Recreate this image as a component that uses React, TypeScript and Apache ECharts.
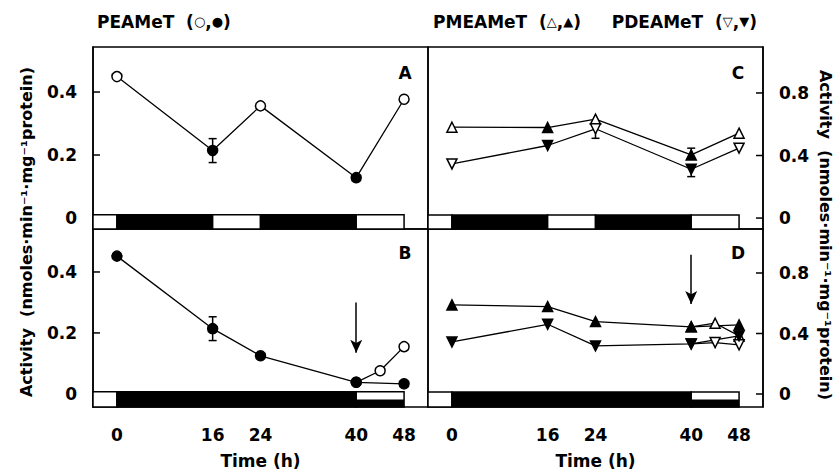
import React, { useEffect, useRef } from "react";
import * as echarts from "echarts";

// ---------- data ----------
const hourTicks = [0, 16, 24, 40, 48];
const hours = [0, 16, 24, 40, 48];

// Panel A : PEAMeT, light/dark cycle
const peametA = [0.449, 0.214, 0.356, 0.128, 0.377];
const filledA = [false, true, false, true, false];
const errA = [[16, 0.176, 0.252]];

// Panel B : PEAMeT, continuous darkness, light from 40 h
const peametBDark = [0.452, 0.214, 0.125, 0.038, 0.033];
const lightHours = [40, 44, 48];
const peametBLight = [0.038, 0.076, 0.155];
const lightFilled = [true, false, false];
const errB = [[16, 0.175, 0.253]];
const arrowB = [40, 0.3, 0.135];

// Panel C : PMEAMeT / PDEAMeT, light/dark cycle
const pmeametC = [0.581, 0.579, 0.633, 0.404, 0.543];
const pdeametC = [0.346, 0.464, 0.571, 0.312, 0.447];
const filledC = [false, true, false, true, false];
const errC = [
  [24, 0.51, 0.6],
  [40, 0.265, 0.33],
  [40, 0.38, 0.447],
];

// Panel D : PMEAMeT / PDEAMeT, continuous darkness, light from 40 h
const pmeametDDark = [0.589, 0.578, 0.479, 0.444, 0.457];
const pmeametDLight = [0.444, 0.468, 0.384];
const pdeametDDark = [0.344, 0.461, 0.318, 0.331, 0.384];
const pdeametDLight = [0.331, 0.34, 0.325];
const arrowD = [40, 0.92, 0.595];

// light (0) / dark (1) / half (2) bars : [start h, end h, kind]
const cycleBars = [
  [-4, 0, 0],
  [0, 16, 1],
  [16, 24, 0],
  [24, 40, 1],
  [40, 48, 0],
];
const darkBars = [
  [-4, 0, 0],
  [0, 40, 1],
  [40, 48, 2],
];

const leftTicks = [0, 0.2, 0.4];
const rightTicks = [0, 0.4, 0.8];

const X_MIN = -4;
const X_MAX = 52;

const FONT = "DejaVu Sans";
const yTitle = "Activity  (nmoles·min⁻¹·mg⁻¹protein)";

function pts(xs: number[], ys: number[], filled: boolean[]) {
  return xs.map((x, i) => ({
    value: [x, ys[i]],
    itemStyle: {
      color: filled[i] ? "#000" : "#fff",
      borderColor: "#000",
      borderWidth: 1.5,
    },
  }));
}

const allFilled = (n: number) => new Array(n).fill(true);

function barSeries(data: number[][], gridIdx: number, top: number, bottom: number) {
  return {
    type: "custom",
    xAxisIndex: gridIdx,
    yAxisIndex: gridIdx,
    data,
    silent: true,
    z: 1,
    clip: false,
    renderItem: (params: any, api: any) => {
      const s = api.value(0);
      const e = api.value(1);
      const kind = api.value(2);
      const p1 = api.coord([s, top]);
      const p2 = api.coord([e, bottom]);
      const w = p2[0] - p1[0];
      const h = p2[1] - p1[1];
      if (kind === 2) {
        return {
          type: "group",
          children: [
            { type: "rect", shape: { x: p1[0], y: p1[1], width: w, height: h / 2 }, style: { fill: "#fff" } },
            { type: "rect", shape: { x: p1[0], y: p1[1] + h / 2, width: w, height: h / 2 }, style: { fill: "#000" } },
            { type: "rect", shape: { x: p1[0], y: p1[1], width: w, height: h }, style: { fill: "none", stroke: "#000", lineWidth: 1.5 } },
          ],
        };
      }
      return {
        type: "rect",
        shape: { x: p1[0], y: p1[1], width: w, height: h },
        style: { fill: kind === 1 ? "#000" : "#fff", stroke: "#000", lineWidth: 1.5 },
      };
    },
  };
}

// inward y ticks, placed through the axis scale
function tickSeries(values: number[], gridIdx: number, right: boolean) {
  return {
    type: "custom",
    xAxisIndex: gridIdx,
    yAxisIndex: gridIdx,
    data: values.map((v) => [right ? X_MAX : X_MIN, v]),
    silent: true,
    clip: false,
    z: 4,
    renderItem: (params: any, api: any) => {
      const p = api.coord([api.value(0), api.value(1)]);
      const d = right ? -7 : 7;
      return {
        type: "line",
        shape: { x1: p[0], y1: p[1], x2: p[0] + d, y2: p[1] },
        style: { stroke: "#000", lineWidth: 1.5 },
      };
    },
  };
}

function errSeries(data: number[][], gridIdx: number) {
  return {
    type: "custom",
    xAxisIndex: gridIdx,
    yAxisIndex: gridIdx,
    data,
    silent: true,
    z: 2,
    renderItem: (params: any, api: any) => {
      const x = api.value(0);
      const lo = api.coord([x, api.value(1)]);
      const hi = api.coord([x, api.value(2)]);
      const st = { stroke: "#000", lineWidth: 1.5 };
      return {
        type: "group",
        children: [
          { type: "line", shape: { x1: lo[0], y1: lo[1], x2: hi[0], y2: hi[1] }, style: st },
          { type: "line", shape: { x1: lo[0] - 4, y1: lo[1], x2: lo[0] + 4, y2: lo[1] }, style: st },
          { type: "line", shape: { x1: hi[0] - 4, y1: hi[1], x2: hi[0] + 4, y2: hi[1] }, style: st },
        ],
      };
    },
  };
}

function lineSeries(data: any[], gridIdx: number, symbol: string, rotate: number, size: number, extra: any = {}) {
  return {
    type: "line",
    xAxisIndex: gridIdx,
    yAxisIndex: gridIdx,
    data,
    symbol,
    symbolRotate: rotate,
    symbolSize: size,
    showAllSymbol: true,
    z: 3,
    lineStyle: { color: "#000", width: 1.3 },
    ...extra,
  };
}

function arrow(a: number[]) {
  return {
    silent: true,
    symbol: ["none", "arrow"],
    symbolSize: [9, 13],
    lineStyle: { color: "#000", width: 1.5, type: "solid" },
    itemStyle: { color: "#000" },
    label: { show: false },
    data: [[{ coord: [a[0], a[1]] }, { coord: [a[0], a[2]] }]],
  };
}

const txt = { fontFamily: FONT, fontWeight: "bold", fontSize: 17, color: "#000" };

const yRanges = [
  [-0.035, 0.543],
  [-0.043, 0.541],
  [-0.07, 1.094],
  [-0.086, 1.091],
];

export default function App() {
  const ref = useRef<HTMLDivElement>(null);
  useEffect(() => {
    if (!ref.current) return;
    const chart = echarts.init(ref.current, undefined, { renderer: "svg" });
    const grids = [
      { left: 93, top: 47, width: 335, height: 182 },
      { left: 93, top: 229, width: 335, height: 178 },
      { left: 428, top: 47, width: 335, height: 182 },
      { left: 428, top: 229, width: 335, height: 178 },
    ].map((g) => ({ ...g, show: true, borderColor: "#000", borderWidth: 1.5, backgroundColor: "transparent" }));

    const xAxis = [0, 1, 2, 3].map((i) => {
      const bottom = i === 1 || i === 3;
      return {
        type: "value",
        gridIndex: i,
        position: "bottom",
        min: X_MIN,
        max: X_MAX,
        splitLine: { show: false },
        axisLine: { show: false, onZero: false },
        axisTick: { show: false },
        axisLabel: { show: bottom, customValues: hourTicks, margin: 19, ...txt },
        name: bottom ? "Time (h)" : "",
        nameLocation: "middle",
        nameGap: 45,
        nameTextStyle: { ...txt },
      };
    });

    const yAxis = [0, 1, 2, 3].map((i) => {
      const right = i >= 2;
      const ticks = right ? rightTicks : leftTicks;
      return {
        type: "value",
        gridIndex: i,
        position: right ? "right" : "left",
        min: yRanges[i][0],
        max: yRanges[i][1],
        splitLine: { show: false },
        axisLine: { show: true, onZero: false, lineStyle: { color: "#000", width: 1.5 } },
        axisTick: { show: false },
        axisLabel: {
          customValues: ticks,
          margin: 16,
          formatter: (v: number) => (v === 0 ? "0" : v.toFixed(1)),
          ...txt,
        },
      };
    });

    const series: any[] = [
      // A
      barSeries(cycleBars, 0, 0.01, yRanges[0][0]),
      tickSeries(leftTicks.slice(1), 0, false),
      errSeries(errA, 0),
      lineSeries(pts(hours, peametA, filledA), 0, "circle", 0, 10),
      // B
      barSeries(darkBars, 1, 0.007, yRanges[1][0]),
      tickSeries(leftTicks.slice(1), 1, false),
      errSeries(errB, 1),
      lineSeries(pts(lightHours, peametBLight, lightFilled), 1, "circle", 0, 10),
      lineSeries(pts(hours, peametBDark, allFilled(5)), 1, "circle", 0, 10, { markLine: arrow(arrowB) }),
      // C
      barSeries(cycleBars, 2, 0.02, yRanges[2][0]),
      tickSeries(rightTicks, 2, true),
      errSeries(errC, 2),
      lineSeries(pts(hours, pmeametC, filledC), 2, "triangle", 0, 10),
      lineSeries(pts(hours, pdeametC, filledC), 2, "triangle", 180, 10),
      // D
      barSeries(darkBars, 3, 0.014, yRanges[3][0]),
      tickSeries(rightTicks, 3, true),
      lineSeries(pts(lightHours, pmeametDLight, lightFilled), 3, "triangle", 0, 10),
      lineSeries(pts(hours, pmeametDDark, allFilled(5)), 3, "triangle", 0, 10, { markLine: arrow(arrowD) }),
      lineSeries(pts(lightHours, pdeametDLight, lightFilled), 3, "triangle", 180, 10),
      lineSeries(pts(hours, pdeametDDark, allFilled(5)), 3, "triangle", 180, 10),
    ];

    const sym = { fontFamily: FONT, fontSize: 13, fontWeight: "bold", color: "#000" };
    const rich = { a: { ...txt }, s: sym };
    const letter = (t: string, x: number, y: number) => ({
      type: "text",
      x,
      y,
      style: { text: t, fill: "#000", font: `bold 17px ${FONT}`, align: "center", verticalAlign: "middle" },
    });

    const graphic = [
      { type: "text", left: 97, top: 13, style: { text: "{a|PEAMeT  (}{s|○}{a|,}{s|●}{a|)}", rich } },
      { type: "text", left: 433, top: 13, style: { text: "{a|PMEAMeT  (}{s|△}{a|,}{s|▲}{a|)}", rich } },
      { type: "text", right: 839 - 757, top: 13, style: { text: "{a|PDEAMeT  (}{s|▽}{a|,}{s|▼}{a|)}", rich } },
      letter("A", 405, 73),
      letter("B", 405, 253),
      letter("C", 738, 73),
      letter("D", 738, 253),
      {
        type: "text",
        x: 26,
        y: 232,
        rotation: Math.PI / 2,
        style: { text: yTitle, fill: "#000", font: `bold 16px ${FONT}`, align: "center", verticalAlign: "middle" },
      },
      {
        type: "text",
        x: 825,
        y: 235,
        rotation: -Math.PI / 2,
        style: { text: yTitle, fill: "#000", font: `bold 16px ${FONT}`, align: "center", verticalAlign: "middle" },
      },
    ];

    chart.setOption({
      animation: false,
      backgroundColor: "#fff",
      grid: grids,
      xAxis,
      yAxis,
      series,
      graphic,
    });
    return () => chart.dispose();
  }, []);
  return (
    <div
      ref={ref}
      style={{ position: "fixed", left: 0, top: 0, width: 839, height: 472, background: "#fff" }}
    />
  );
}
